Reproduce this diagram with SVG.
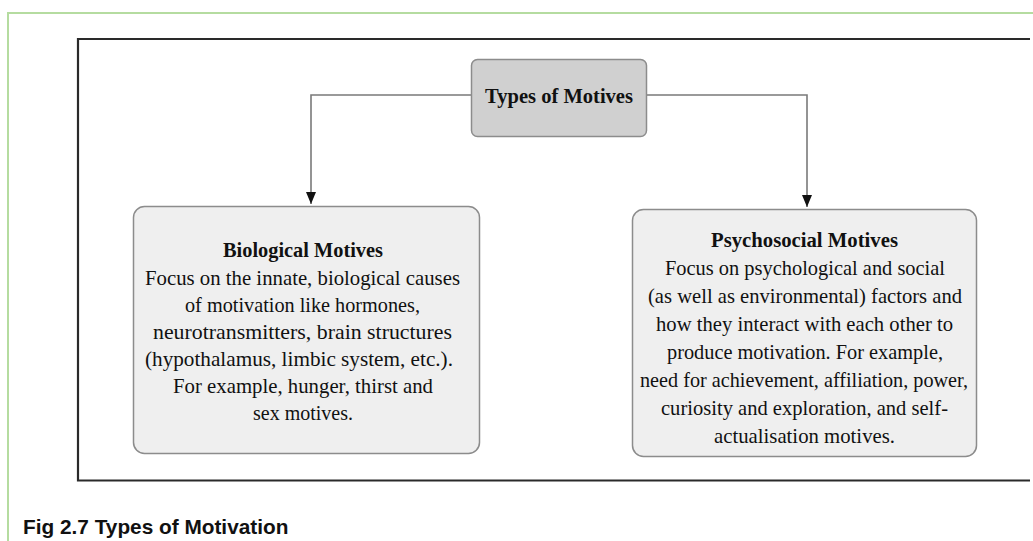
<svg xmlns="http://www.w3.org/2000/svg" width="1033" height="541" viewBox="0 0 1033 541">
  <style>
    .frame { fill: none; stroke: #2a2a2a; stroke-width: 2.2; }
    .panel { fill: none; stroke: #b5dca0; stroke-width: 2; }
    .root { fill: #d0d0d0; stroke: #8c8c8c; stroke-width: 1.5; }
    .leaf { fill: #efefef; stroke: #8c8c8c; stroke-width: 1.5; }
    .wire { fill: none; stroke: #7a7a7a; stroke-width: 1.6; }
    .title { font-family: "Liberation Serif", "Times New Roman", serif; font-weight: bold; font-size: 22px; fill: #111; text-anchor: middle; }
    .body { font-family: "Liberation Serif", "Times New Roman", serif; font-size: 22px; fill: #111; text-anchor: middle; }
    .caption { font-family: "Liberation Sans", Arial, sans-serif; font-weight: bold; font-size: 20.8px; fill: #111; }
  </style>
  <defs>
    <marker id="arrow" viewBox="0 0 12 10" refX="12" refY="5" markerWidth="12" markerHeight="10" markerUnits="userSpaceOnUse" orient="auto">
      <path d="M0,0 L12,5 L0,10 Z" fill="#111"/>
    </marker>
  </defs>

  <rect width="1033" height="541" fill="#ffffff"/>

  <!-- outer panel border (left and top edges) -->
  <path class="panel" d="M8,541 V13 H1033"/>

  <!-- figure frame -->
  <path class="frame" d="M1030,39 H78 V480.5 H1030"/>

  <!-- connectors -->
  <g id="connectors">
    <path class="wire" d="M472,95 H311 V204" marker-end="url(#arrow)"/>
    <path class="wire" d="M646,95 H807 V207" marker-end="url(#arrow)"/>
  </g>

  <g id="types-of-motives">
    <rect class="root" x="471.5" y="59.5" width="175" height="77" rx="6"/>
    <text class="title" x="559" y="103" textLength="148" lengthAdjust="spacingAndGlyphs">Types of Motives</text>
  </g>

  <g id="biological-motives">
    <rect class="leaf" x="133.5" y="206.5" width="346" height="247" rx="11"/>
    <text class="title" x="303" y="257" textLength="160" lengthAdjust="spacingAndGlyphs">Biological Motives</text>
    <text class="body" x="302.5" y="285" textLength="315" lengthAdjust="spacingAndGlyphs">Focus on the innate, biological causes</text>
    <text class="body" x="302.5" y="312" textLength="235" lengthAdjust="spacingAndGlyphs">of motivation like hormones,</text>
    <text class="body" x="302.5" y="339" textLength="299" lengthAdjust="spacingAndGlyphs">neurotransmitters, brain structures</text>
    <text class="body" x="299" y="366" textLength="308" lengthAdjust="spacingAndGlyphs">(hypothalamus, limbic system, etc.).</text>
    <text class="body" x="303" y="393" textLength="260" lengthAdjust="spacingAndGlyphs">For example, hunger, thirst and</text>
    <text class="body" x="303" y="420" textLength="100" lengthAdjust="spacingAndGlyphs">sex motives.</text>
  </g>

  <g id="psychosocial-motives">
    <rect class="leaf" x="632.5" y="209.5" width="344" height="247" rx="11"/>
    <text class="title" x="804.5" y="247" textLength="187" lengthAdjust="spacingAndGlyphs">Psychosocial Motives</text>
    <text class="body" x="805" y="274.5" textLength="280" lengthAdjust="spacingAndGlyphs">Focus on psychological and social</text>
    <text class="body" x="805" y="302.5" textLength="314" lengthAdjust="spacingAndGlyphs">(as well as environmental) factors and</text>
    <text class="body" x="804.5" y="330.5" textLength="297" lengthAdjust="spacingAndGlyphs">how they interact with each other to</text>
    <text class="body" x="805" y="358.5" textLength="276" lengthAdjust="spacingAndGlyphs">produce motivation. For example,</text>
    <text class="body" x="804" y="386.5" textLength="328" lengthAdjust="spacingAndGlyphs">need for achievement, affiliation, power,</text>
    <text class="body" x="804.5" y="414.5" textLength="287" lengthAdjust="spacingAndGlyphs">curiosity and exploration, and self-</text>
    <text class="body" x="804.5" y="442.5" textLength="181" lengthAdjust="spacingAndGlyphs">actualisation motives.</text>
  </g>

  <text class="caption" x="23" y="534">Fig 2.7 Types of Motivation</text>
</svg>
